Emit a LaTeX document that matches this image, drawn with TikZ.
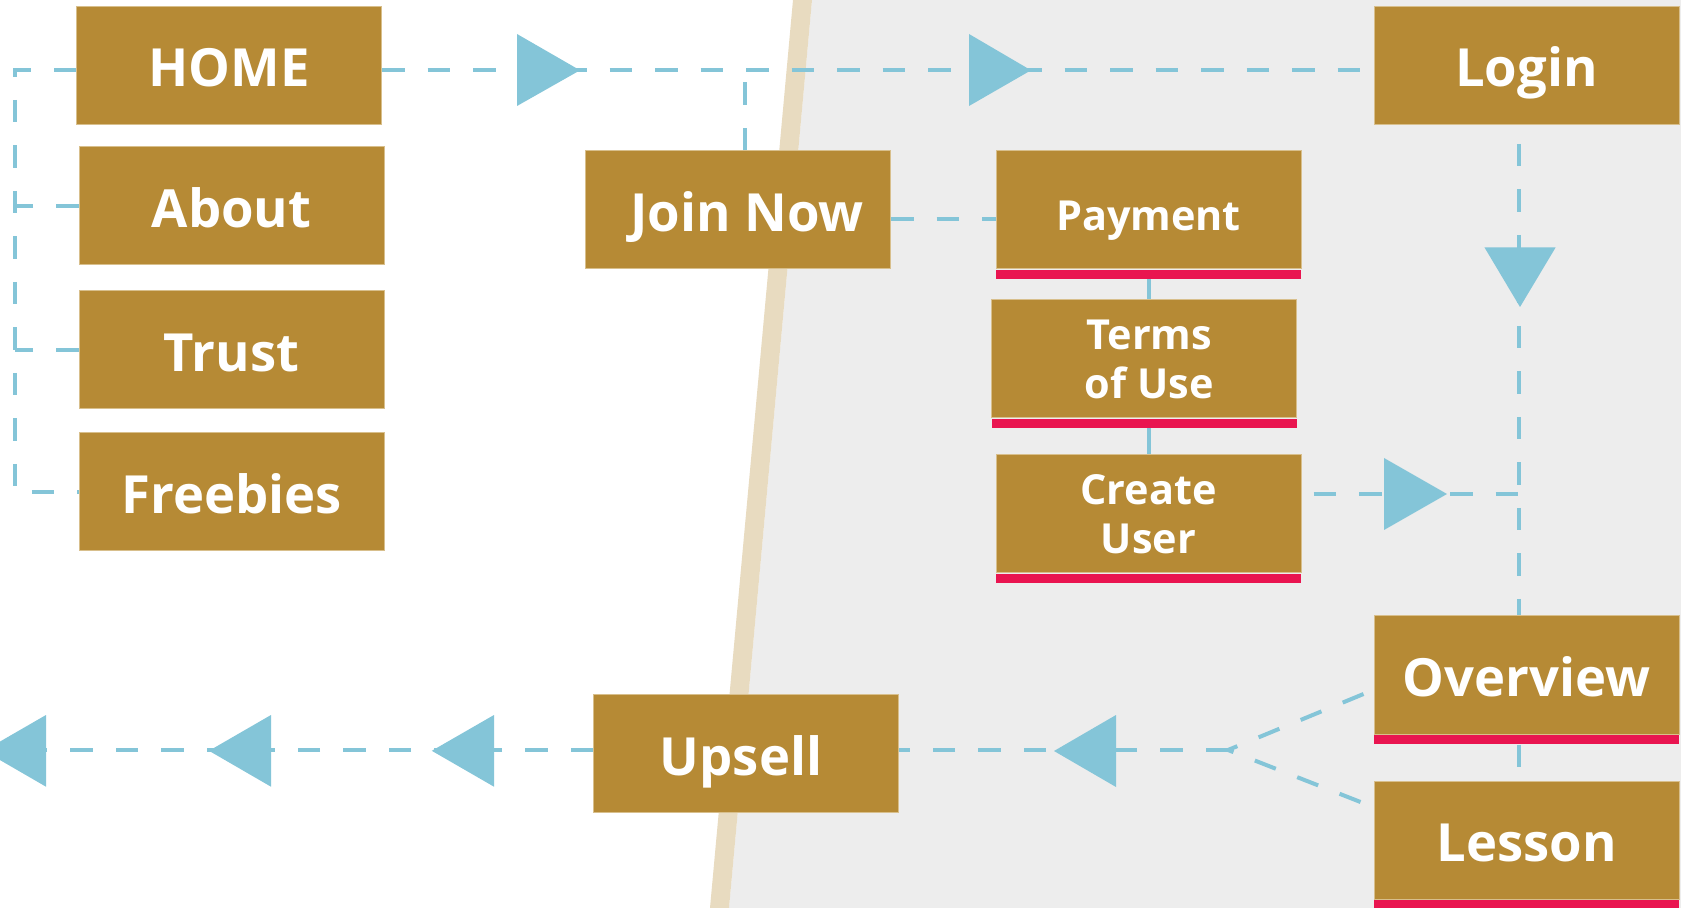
\documentclass[tikz,border=0pt]{standalone}
\usepackage{fontspec}
\setmainfont{Open Sans}
\usetikzlibrary{calc}
\definecolor{gold}{HTML}{B68A35}
\definecolor{goldedge}{HTML}{D8BF8C}
\definecolor{lblue}{HTML}{84C5D8}
\definecolor{redbar}{HTML}{E91550}
\definecolor{bggray}{HTML}{EDEDED}
\definecolor{stripe}{HTML}{E8DBC0}
\tikzset{
  box/.style={fill=gold, draw=goldedge, line width=0.5pt, text=white,
    font=\bfseries\fontsize{26.3}{31}\selectfont,
    minimum width=152.5pt, minimum height=59pt, inner sep=0pt, align=center},
  oneline/.style={text height=21.5pt, text depth=0pt},
  smalltext/.style={font=\bfseries\fontsize{20.7}{24.5}\selectfont},
  smallone/.style={text height=20.7pt, text depth=0pt},
  barbox/.style={fill=redbar, minimum width=152.5pt, minimum height=4.6pt, inner sep=0pt, anchor=north},
  link/.style={draw=lblue, line width=2pt, dash pattern=on 11.25pt off 11.5pt},
  solidlink/.style={draw=lblue, line width=2pt},
  tri/.style={fill=lblue}
}
\begin{document}
\begin{tikzpicture}[x=0.5pt,y=-0.5pt]
\useasboundingbox (0,0) rectangle (1681,908);
\clip (0,0) rectangle (1681,908);
% background
\fill[white] (0,0) rectangle (1681,908);
\fill[bggray] (812,0) -- (1681,0) -- (1681,908) -- (729,908) -- cycle;
\fill[stripe] (793,0) -- (812,0) -- (729,908) -- (710,908) -- cycle;

% coordinates
\coordinate (bx) at (14.5,70.3);
\coordinate (vx) at (1518.7,494);
\coordinate (jn) at (1228,750);
\coordinate (lend) at (-30,750);

% nodes
\node[box, oneline] (home) at (229,65.3) {HOME};
\node[box, oneline] (about) at (231.6,206) {About};
\node[box, oneline] (trust) at (231.6,350) {Trust};
\node[box, oneline] (free) at (231.6,492) {Freebies};
\node[box, oneline] (join) at (738,210) {\hspace*{9pt}Join Now};
\node[box, oneline] (login) at (1526.5,65.3) {Login};
\node[box, smalltext, smallone] (pay) at (1148.5,210) {Payment};
\node[barbox] (paybar) at (pay.south) {};
\node[box, smalltext] (terms) at (1144.2,359) {\hspace*{5pt}Terms\\\hspace*{5pt}of Use};
\node[barbox] (termsbar) at (terms.south) {};
\node[box, smalltext] (create) at (1148.5,514) {Create\\User};
\node[barbox] (createbar) at (create.south) {};
\node[box, oneline] (ov) at (1526.5,675) {Overview};
\node[barbox] (ovbar) at (ov.south) {};
\node[box, oneline] (lesson) at (1526.5,840) {Lesson};
\node[barbox] (lessonbar) at (lesson.south) {};
\node[box, oneline] (upsell) at (746,753.5) {Upsell\hspace*{5pt}};

% connectors
\draw[link] ([yshift=-2.5pt]home.east) -- ([yshift=-2.5pt]login.west);
\draw[link] ([xshift=3.3pt]join.north) -- ([xshift=3.3pt]join.north |- bx);
\draw[link] ([yshift=-2.5pt]home.west) -- (bx) -- (bx |- free.west) -- (free.west);
\draw[link] (about.west) -- (about.west -| bx);
\draw[link] (trust.west) -- (trust.west -| bx);
\draw[link] ([yshift=-4.5pt]join.east) -- ([yshift=-4.5pt]pay.west);
\draw[solidlink] (paybar.south) -- (paybar.south |- terms.north);
\draw[solidlink] (create.north |- termsbar.south) -- (create.north);
\draw[link] ($(create.east |- vx)+(12,0)$) -- (vx);
\draw[link] ($(login.south -| vx)+(0,19)$) -- (ov.north -| vx);
\draw[link] (ovbar.south -| vx) -- (lesson.north -| vx);
\draw[link] ($([yshift=-9.5pt]ov.west)+(-10,0)$) -- (jn);
\draw[link] ($([yshift=19pt]lesson.west)+(-13,0)$) -- (jn);
\draw[link] (jn) -- (upsell.east |- jn);
\draw[link] (upsell.west |- jn) -- (lend);

% arrow triangles
\fill[tri] (517,34) -- (580,70.3) -- (517,106) -- cycle;
\fill[tri] (969,34) -- (1031,70.3) -- (969,106) -- cycle;
\fill[tri] (1384,458) -- (1447,494) -- (1384,530) -- cycle;
\fill[tri] (1484.4,247.3) -- (1555.7,247.3) -- (1520,307) -- cycle;
\fill[tri] (1116,715) -- (1054,751) -- (1116,787) -- cycle;
\fill[tri] (494,715) -- (431.8,750.8) -- (494,786.7) -- cycle;
\fill[tri] (271,715) -- (209,750.8) -- (271,786.7) -- cycle;
\fill[tri] (46,715) -- (-16,750.8) -- (46,786.7) -- cycle;
\end{tikzpicture}
\end{document}
